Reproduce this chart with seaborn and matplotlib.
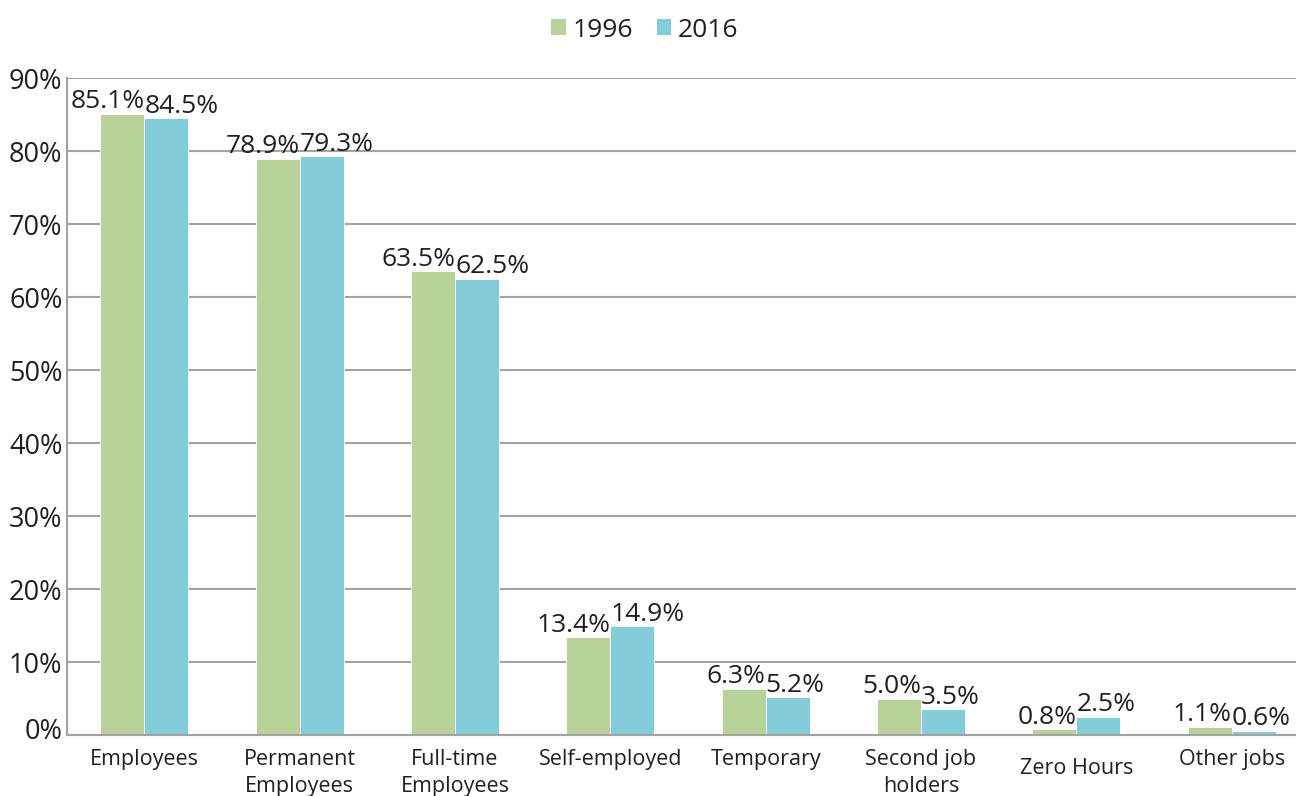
import matplotlib
matplotlib.use("Agg")
import matplotlib.pyplot as plt
from matplotlib.patches import Patch
from matplotlib.transforms import ScaledTranslation
import seaborn as sns
import pandas as pd

categories = ["Employees", "Permanent\nEmployees", "Full-time\nEmployees", "Self-employed",
              "Temporary", "Second job\nholders", "Zero Hours", "Other jobs"]
years = ["1996", "2016"]
values_1996 = [85.1, 78.9, 63.5, 13.4, 6.3, 5.0, 0.8, 1.1]
values_2016 = [84.5, 79.3, 62.5, 14.9, 5.2, 3.5, 2.5, 0.6]
yticks = [0, 10, 20, 30, 40, 50, 60, 70, 80, 90]

GREEN = "#b7d399"
BLUE = "#83ccd9"
TEXT = "#231f20"
GRID = "#a3a3a3"

df = pd.DataFrame({
    "category": categories * 2,
    "year": [years[0]] * len(categories) + [years[1]] * len(categories),
    "value": values_1996 + values_2016,
})

sns.set_theme(style="white")
plt.rcParams["font.family"] = ["Open Sans", "DejaVu Sans"]

fig = plt.figure(figsize=(12.96, 7.96), dpi=100)
ax = fig.add_axes([0.0515, 0.0766, 0.9588, 0.8254])

sns.barplot(data=df, x="category", y="value", hue="year", order=categories,
            hue_order=years, palette=[GREEN, BLUE], saturation=1, width=0.567, gap=0,
            edgecolor="white", linewidth=0.6, legend=False, ax=ax)

ax.set_xlim(-0.5, len(categories) - 0.5)
ax.set_ylim(0, 90)
ax.set_yticks(yticks)
ax.set_yticklabels([f"{v}%" for v in yticks])
ax.set_xlabel("")
ax.set_ylabel("")

ax.grid(axis="y", color=GRID, linewidth=1.5)
ax.set_axisbelow(True)
for side in ["top", "right"]:
    ax.spines[side].set_visible(False)
for side in ["left", "bottom"]:
    ax.spines[side].set_color(GRID)
    ax.spines[side].set_linewidth(1.5)

ax.tick_params(axis="y", length=0, pad=3, labelsize=19.5, labelcolor=TEXT)
ax.tick_params(axis="x", which="major", length=0, pad=10, labelsize=15.5, labelcolor=TEXT)
ax.set_xticks([i - 0.5 for i in range(len(categories) + 1)], minor=True)
ax.tick_params(axis="x", which="minor", length=7, width=1.5, color=GRID, direction="out")
for lbl in ax.get_xticklabels():
    lbl.set_linespacing(1.4)

# "Zero Hours" sits a little lower, "0%" a little higher
zl = ax.get_xticklabels()[categories.index("Zero Hours")]
zl.set_transform(zl.get_transform() + ScaledTranslation(0, -9 / 100, fig.dpi_scale_trans))
y0 = ax.get_yticklabels()[0]
y0.set_transform(y0.get_transform() + ScaledTranslation(0, 7 / 100, fig.dpi_scale_trans))

# value labels
for ci, container in enumerate(ax.containers):
    for bar in container:
        h = bar.get_height()
        if ci == 0:
            x = bar.get_x() + bar.get_width()
            ha = "right"
        else:
            x = bar.get_x()
            ha = "left"
        ax.annotate(f"{h:.1f}%", (x, h), xytext=(0, 4), textcoords="offset points",
                    ha=ha, va="baseline", fontsize=19, color=TEXT)

handles = [Patch(facecolor=GREEN, edgecolor="none"), Patch(facecolor=BLUE, edgecolor="none")]
fig.legend(handles, years, loc="center", bbox_to_anchor=(0.4975, 0.962), ncol=2,
           frameon=False, fontsize=19, handlelength=0.55, handleheight=0.55,
           handletextpad=0.25, columnspacing=0.9, labelcolor=TEXT)

fig.savefig("out.png", dpi=100)
